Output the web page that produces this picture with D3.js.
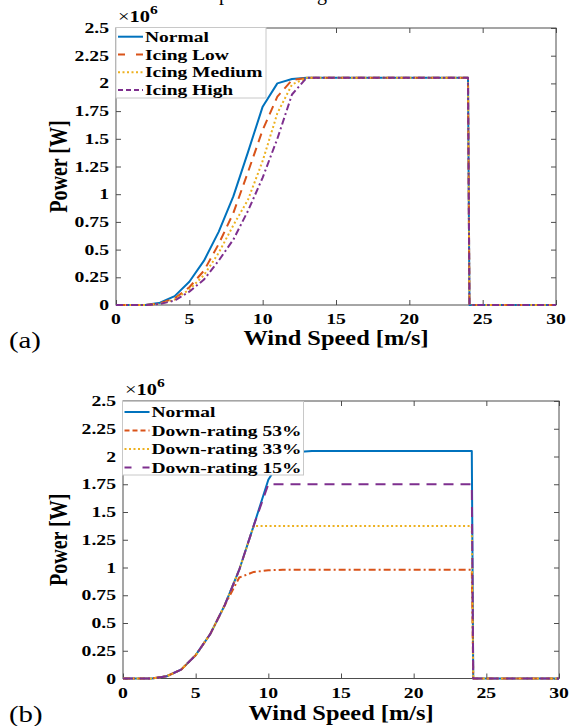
<!DOCTYPE html>
<html><head><meta charset="utf-8">
<script src="https://cdn.jsdelivr.net/npm/d3@7"></script>
<style>
body{margin:0;background:#fff}
svg{display:block}
text{font-family:"Liberation Serif","Times New Roman",serif}
</style>
</head><body><svg id="c" width="573" height="726"></svg>
<script>
// ---------- DATA ----------
const windSpeed = [0,1,2,3,4,5,6,7,8,9,10,11,12,13,14,15,16,17,18,19,20,21,22,23,24,24.1,25,26,27,28,29,30];
// power in units of 1e6 W
const normal      = [0,0,0,0.02,0.08,0.21,0.40,0.66,0.98,1.38,1.79,2.00,2.04,2.05,2.05,2.05,2.05,2.05,2.05,2.05,2.05,2.05,2.05,2.05,2.05,0,0,0,0,0,0,0];
const icingLow    = [0,0,0,0.015,0.06,0.16,0.31,0.55,0.83,1.20,1.58,1.88,2.03,2.05,2.05,2.05,2.05,2.05,2.05,2.05,2.05,2.05,2.05,2.05,2.05,0,0,0,0,0,0,0];
const icingMedium = [0,0,0,0.012,0.05,0.14,0.27,0.47,0.72,0.95,1.30,1.73,1.99,2.05,2.05,2.05,2.05,2.05,2.05,2.05,2.05,2.05,2.05,2.05,2.05,0,0,0,0,0,0,0];
const icingHigh   = [0,0,0,0.01,0.04,0.12,0.23,0.40,0.59,0.85,1.15,1.50,1.90,2.05,2.05,2.05,2.05,2.05,2.05,2.05,2.05,2.05,2.05,2.05,2.05,0,0,0,0,0,0,0];
const downRating53 = [0,0,0,0.02,0.08,0.21,0.40,0.66,0.91,0.96,0.975,0.98,0.98,0.98,0.98,0.98,0.98,0.98,0.98,0.98,0.98,0.98,0.98,0.98,0.98,0,0,0,0,0,0,0];
const downRating33 = [0,0,0,0.02,0.08,0.21,0.40,0.66,0.98,1.375,1.375,1.375,1.375,1.375,1.375,1.375,1.375,1.375,1.375,1.375,1.375,1.375,1.375,1.375,1.375,0,0,0,0,0,0,0];
const downRating15 = [0,0,0,0.02,0.08,0.21,0.40,0.66,0.98,1.38,1.75,1.75,1.75,1.75,1.75,1.75,1.75,1.75,1.75,1.75,1.75,1.75,1.75,1.75,1.75,0,0,0,0,0,0,0];

const xTicks = [0,5,10,15,20,25,30];
const yTicks = [0,0.25,0.5,0.75,1,1.25,1.5,1.75,2,2.25,2.5];
const yTickLabels = ["0","0.25","0.5","0.75","1","1.25","1.5","1.75","2","2.25","2.5"];
const legendA = ["Normal","Icing Low","Icing Medium","Icing High"];
const legendB = ["Normal","Down-rating 53%","Down-rating 33%","Down-rating 15%"];
const xTitle = "Wind Speed [m/s]";
const yTitle = "Power [W]";

// ---------- STYLE ----------
const C = {blue:"#0072BD", orange:"#D95319", yellow:"#EDB120", purple:"#7E2F8E"};
const SX = 1.27; // horizontal stretch of the original figure text

const svg = d3.select("#c");

// cropped caption remnants at the very top
svg.append("text").attr("x",219).attr("y",0).attr("font-size",20).text("p");
svg.append("text").attr("x",317).attr("y",0).attr("font-size",20).text("g");

function stretchedText(g, x, y, str, opts){
  const t = g.append("text")
    .attr("transform", `translate(${x},${y}) scale(${opts.sx||SX},1)`)
    .attr("font-size", opts.size)
    .attr("font-weight", opts.weight||"bold")
    .attr("text-anchor", opts.anchor||"start")
    .attr("fill","#000")
    .text(str);
  return t;
}

function drawPanel(p){
  const g = svg.append("g");
  const x = d3.scaleLinear().domain([0,30]).range([p.x0,p.x1]);
  const y = d3.scaleLinear().domain([0,2.5]).range([p.yBot,p.yTop]);

  // axes with inward ticks
  const axCol = "#4d4d4d";
  const ax = (a, tr) => {
    const ag = g.append("g").attr("transform", tr).call(a);
    ag.select(".domain").remove();
    ag.selectAll("line").attr("stroke", axCol).attr("stroke-width",1);
    ag.selectAll("text").remove();
    return ag;
  };
  ax(d3.axisBottom(x).tickValues(xTicks).tickSizeInner(-5).tickSizeOuter(0), `translate(0,${p.yBot})`);
  ax(d3.axisTop(x).tickValues(xTicks).tickSizeInner(-5).tickSizeOuter(0), `translate(0,${p.yTop})`);
  ax(d3.axisLeft(y).tickValues(yTicks).tickSizeInner(-5).tickSizeOuter(0), `translate(${p.x0},0)`);
  ax(d3.axisRight(y).tickValues(yTicks).tickSizeInner(-5).tickSizeOuter(0), `translate(${p.x1},0)`);

  // tick labels
  xTicks.forEach(v => stretchedText(g, x(v), p.xLabY, String(v), {size:15.5, anchor:"middle"}));
  yTicks.forEach((v,i) => stretchedText(g, p.x0-7, y(v)+5, yTickLabels[i], {size:15.5, anchor:"end"}));

  // frame
  g.append("rect").attr("x",p.x0).attr("y",p.yTop).attr("width",p.x1-p.x0).attr("height",p.yBot-p.yTop)
    .attr("fill","none").attr("stroke",axCol).attr("stroke-width",1);

  // series
  const line = d3.line().x((d,i)=>x(windSpeed[i])).y(d=>y(d));
  p.series.forEach(s => {
    g.append("path").datum(s.values).attr("d", line)
      .attr("fill","none").attr("stroke", s.color).attr("stroke-width", 2)
      .attr("stroke-dasharray", s.dash || null).attr("stroke-linejoin","round");
  });

  // legend
  const lg = g.append("g");
  lg.append("rect").attr("x",p.leg.x).attr("y",p.leg.y).attr("width",p.leg.w).attr("height",p.leg.h)
    .attr("fill","#fff").attr("stroke","#c8c8c8").attr("stroke-width",1);
  p.series.forEach((s,i) => {
    const cy = p.leg.row0 + i*p.leg.dy;
    lg.append("line").attr("x1",p.leg.x+2).attr("x2",p.leg.x+27).attr("y1",cy).attr("y2",cy)
      .attr("stroke",s.color).attr("stroke-width",2).attr("stroke-dasharray", s.legDash || s.dash || null);
    stretchedText(lg, p.leg.x+29, cy+5, s.name, {size:15, sx:1.3});
  });

  // exponent label
  const e = stretchedText(g, p.x0+2, p.yTop-6, "", {size:17, weight:"normal", sx:1.2});
  e.append("tspan").text("\u00d7");
  e.append("tspan").attr("font-weight","bold").text("10");
  e.append("tspan").attr("font-weight","bold").attr("font-size",13).attr("dy",-8).text("6");

  // axis titles
  stretchedText(g, (p.x0+p.x1)/2, p.xTitleY, xTitle, {size:20, sx:1.22, anchor:"middle"});
  g.append("text").attr("transform", `translate(67,${(p.yTop+p.yBot)/2}) rotate(-90) scale(1,1.25)`)
    .attr("font-size",20).attr("font-weight","bold").attr("text-anchor","middle").text(yTitle);

  // panel label
  stretchedText(g, 9, p.tagY, p.tag, {size:24, weight:"normal", sx:1.2});
}

drawPanel({
  x0:116, x1:556, yTop:28, yBot:305, xLabY:324, xTitleY:345, tag:"(a)", tagY:348,
  leg:{x:116, y:27.5, w:150, h:70.5, row0:36.7, dy:17.8},
  series:[
    {name:legendA[0], values:normal, color:C.blue},
    {name:legendA[1], values:icingLow, color:C.orange, dash:"9,6", legDash:"7,11"},
    {name:legendA[2], values:icingMedium, color:C.yellow, dash:"2,2.5"},
    {name:legendA[3], values:icingHigh, color:C.purple, dash:"7,3,2,3", legDash:"5,3"}
  ]
});

drawPanel({
  x0:123, x1:559, yTop:401, yBot:678.5, xLabY:698, xTitleY:720, tag:"(b)", tagY:722,
  leg:{x:122.5, y:401.5, w:181, h:73.5, row0:412, dy:18.5},
  series:[
    {name:legendB[0], values:normal, color:C.blue},
    {name:legendB[1], values:downRating53, color:C.orange, dash:"7,3,2,3", legDash:"5,3"},
    {name:legendB[2], values:downRating33, color:C.yellow, dash:"2,2.5"},
    {name:legendB[3], values:downRating15, color:C.purple, dash:"10,7", legDash:"7,11"}
  ]
});
</script>
</body></html>
